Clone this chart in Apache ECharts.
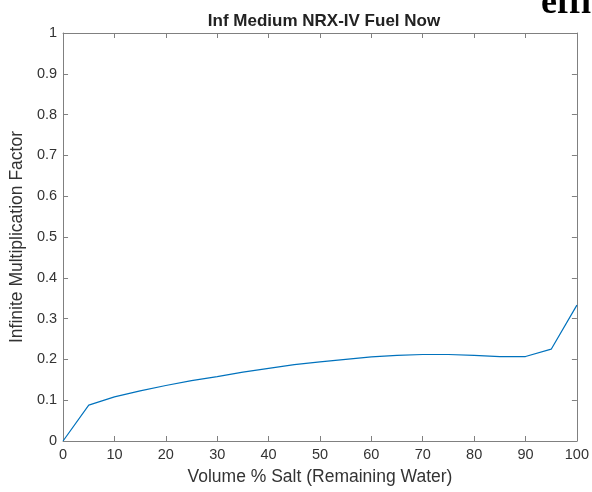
<!DOCTYPE html>
<html>
<head>
<meta charset="utf-8">
<script src="https://cdn.jsdelivr.net/npm/echarts@6/dist/echarts.min.js"></script>
<style>html,body{margin:0;padding:0;background:#fff;}#c{width:592px;height:492px;}</style>
</head>
<body>
<div id="c"></div>
<script>
var xValues = [0, 5, 10, 15, 20, 25, 30, 35, 40, 45, 50, 55, 60, 65, 70, 75, 80, 85, 90, 95, 100];
var kInf = [0, 0.088, 0.108, 0.123, 0.136, 0.148, 0.158, 0.169, 0.178, 0.187, 0.194, 0.200, 0.206, 0.210, 0.212, 0.212, 0.210, 0.207, 0.207, 0.225, 0.333];
var titleText = 'Inf Medium NRX-IV Fuel Now';
var xName = 'Volume % Salt (Remaining Water)';
var yName = 'Infinite Multiplication Factor';

var pts = xValues.map(function (x, i) { return [x, kInf[i]]; });
var axisCol = '#808080';
var txtCol = '#333333';
var font = 'Liberation Sans, Arial, sans-serif';

var chart = echarts.init(document.getElementById('c'), null, { renderer: 'canvas' });
chart.setOption({
  animation: false,
  backgroundColor: '#ffffff',
  title: {
    text: titleText, left: 319, top: 8, textAlign: 'center',
    textStyle: { fontFamily: font, fontSize: 17, fontWeight: 'bold', color: '#222' }
  },
  graphic: [{
    type: 'text', left: 541, top: -14,
    style: { text: 'effi', fontFamily: 'Liberation Serif, Times New Roman, serif', fontWeight: 'bold', fontSize: 36, fill: '#000' }
  }],
  grid: { left: 61, right: 15, top: 33, bottom: 51, containLabel: false },
  xAxis: [{
    type: 'value', min: 0, max: 100, interval: 10, position: 'bottom',
    name: xName, nameLocation: 'middle', nameGap: 27,
    nameTextStyle: { fontFamily: font, fontSize: 17.5, color: txtCol },
    axisLine: { show: true, onZero: false, lineStyle: { color: axisCol, width: 1 } },
    axisTick: { show: true, inside: true, length: 5, lineStyle: { color: axisCol } },
    axisLabel: { fontFamily: font, fontSize: 14.5, color: txtCol, margin: 6 },
    splitLine: { show: false }
  }, {
    type: 'value', min: 0, max: 100, interval: 10, position: 'top',
    axisLine: { show: true, onZero: false, lineStyle: { color: axisCol, width: 1 } },
    axisTick: { show: true, inside: true, length: 5, lineStyle: { color: axisCol } },
    axisLabel: { show: false }, splitLine: { show: false }
  }],
  yAxis: [{
    type: 'value', min: 0, max: 1, interval: 0.1, position: 'left',
    name: yName, nameLocation: 'middle', nameGap: 33, nameRotate: 90,
    nameTextStyle: { fontFamily: font, fontSize: 17.5, color: txtCol },
    axisLine: { show: true, onZero: false, lineStyle: { color: axisCol, width: 1 } },
    axisTick: { show: true, inside: true, length: 5, lineStyle: { color: axisCol } },
    axisLabel: { fontFamily: font, fontSize: 14.5, color: txtCol, margin: 6 },
    splitLine: { show: false }
  }, {
    type: 'value', min: 0, max: 1, interval: 0.1, position: 'right',
    axisLine: { show: true, onZero: false, lineStyle: { color: axisCol, width: 1 } },
    axisTick: { show: true, inside: true, length: 5, lineStyle: { color: axisCol } },
    axisLabel: { show: false }, splitLine: { show: false }
  }],
  series: [{
    type: 'line', data: pts, xAxisIndex: 0, yAxisIndex: 0,
    showSymbol: false, symbol: 'none', smooth: false,
    lineStyle: { color: '#0072BD', width: 1.2 }
  }]
});
</script>
</body>
</html>
